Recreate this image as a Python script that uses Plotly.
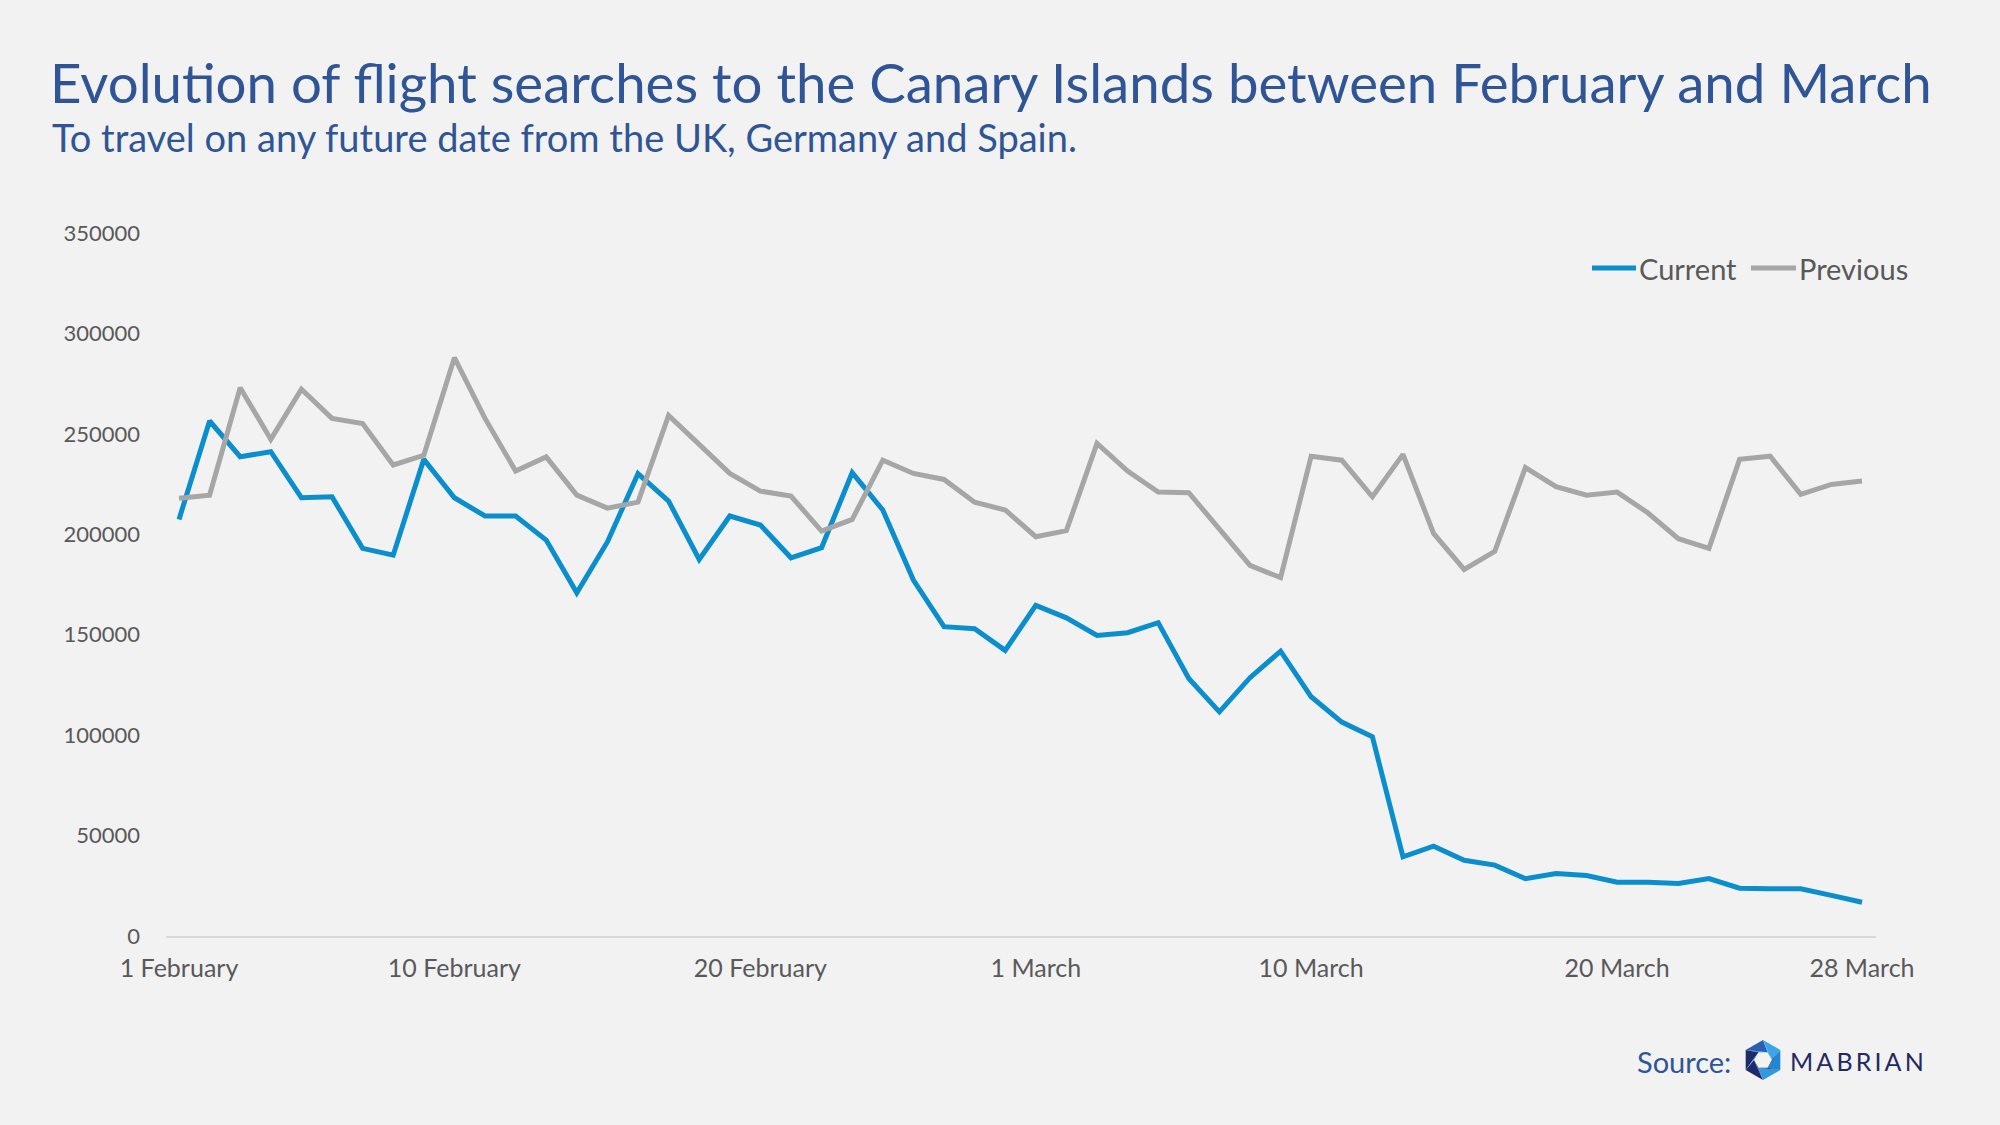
import plotly.graph_objects as go
import pandas as pd
import math

# ---- data ----
dates = pd.date_range("2021-02-01", "2021-03-28", freq="D")

current = [207400, 256400, 238600, 241100, 218200, 218700, 193000, 189600, 237300, 218200,
           209100, 209100, 197100, 170900, 196200, 230200, 216500, 187500, 209100, 204600,
           188300, 193300, 230700, 212100, 177200, 154000, 153000, 142200, 164600, 158400,
           149600, 151000, 156000, 128200, 111600, 128600, 141800, 119100, 106500, 99200,
           39400, 44700, 37700, 35300, 28500, 31100, 30100, 26800, 26800, 26100,
           28600, 23800, 23500, 23500, 20200, 16800]

previous = [217900, 219500, 273000, 247300, 272200, 257700, 255100, 234500, 239300, 287900,
            257700, 231500, 238500, 219500, 213000, 216000, 259200, 244800, 230300, 221500,
            219000, 201600, 207400, 236900, 230300, 227300, 216000, 212100, 198800, 201800,
            245300, 231500, 221000, 220700, 202400, 184500, 178400, 238900, 236900, 218700,
            239800, 200400, 182500, 191500, 233200, 223700, 219500, 221000, 210700, 197800,
            193000, 237300, 238900, 219900, 224800, 226500]

series_names = ["Current", "Previous"]

tick_dates = ["2021-02-01", "2021-02-10", "2021-02-20", "2021-03-01",
              "2021-03-10", "2021-03-20", "2021-03-28"]
tick_labels = ["1 February", "10 February", "20 February", "1 March",
               "10 March", "20 March", "28 March"]

y_ticks = [0, 50000, 100000, 150000, 200000, 250000, 300000, 350000]

# ---- layout geometry (pixels) ----
W, H = 2000, 1125
L, R, T, B = 166, 124, 233, 189
PW, PH = W - L - R, H - T - B


def px(x):
    return (x - L) / PW


def py(y):
    return (H - B - y) / PH


BLUE = "#0A8ECE"
GREY = "#A6A6A6"
TITLE = "#2F5597"
FONT = "Lato"
BG = "#F2F2F2"
LABEL = "#595959"

fig = go.Figure()
fig.add_trace(go.Scatter(x=dates, y=current, name=series_names[0], mode="lines",
                         line=dict(color=BLUE, width=5)))
fig.add_trace(go.Scatter(x=dates, y=previous, name=series_names[1], mode="lines",
                         line=dict(color=GREY, width=5)))

annotations = [
    dict(text="To travel on any future date from the UK, Germany and Spain.",
         xref="paper", yref="paper", x=px(50), y=py(137), xanchor="left", yanchor="middle",
         showarrow=False, font=dict(family=FONT, size=38, color=TITLE)),
    dict(text="Source:", xref="paper", yref="paper", x=px(1733), y=py(1061),
         xanchor="right", yanchor="middle", showarrow=False,
         font=dict(family=FONT, size=29, color=TITLE)),
    dict(text="M\u2009A\u2009B\u2009R\u2009I\u2009A\u2009N", xref="paper", yref="paper",
         x=px(1788), y=py(1061), xanchor="left", yanchor="middle", showarrow=False,
         font=dict(family=FONT, size=25, color="#1F2A63")),
]

# ---- legend drawn manually (line swatch + label) ----
legend_items = [(series_names[0], BLUE, 1592, 1636), (series_names[1], GREY, 1751, 1796)]
for name, col, x0, x1 in legend_items:
    fig.add_shape(type="line", xref="paper", yref="paper",
                  x0=px(x0), x1=px(x1), y0=py(268), y1=py(268),
                  line=dict(color=col, width=5))
    annotations.append(dict(text=name, xref="paper", yref="paper", x=px(x1 + 1), y=py(268),
                            xanchor="left", yanchor="middle", showarrow=False,
                            font=dict(family=FONT, size=29, color=LABEL)))

fig.update_layout(
    width=W, height=H,
    paper_bgcolor=BG, plot_bgcolor=BG,
    margin=dict(l=L, r=R, t=T, b=B),
    font=dict(family=FONT, color=LABEL),
    title=dict(text="Evolution of flight searches to the Canary Islands between February and March",
               x=50 / W, xanchor="left", y=1 - 84 / H, yanchor="middle",
               font=dict(family=FONT, size=54.6, color=TITLE)),
    showlegend=False,
    xaxis=dict(type="date", range=["2021-01-31 13:48", "2021-03-28 11:00"],
               tickvals=tick_dates, ticktext=tick_labels,
               showgrid=False, zeroline=False,
               showline=True, linecolor="#D9D9D9", linewidth=2,
               ticks="", tickfont=dict(family=FONT, size=25, color=LABEL),
               ticklabelstandoff=9),
    yaxis=dict(range=[0, 350000], tickvals=y_ticks, ticktext=[str(v) for v in y_ticks],
               showgrid=False, zeroline=False, showline=False, ticks="",
               tickfont=dict(family=FONT, size=22, color=LABEL),
               ticklabelstandoff=25),
    annotations=annotations,
)

# ---- Mabrian hexagon logo (pixel-sized shapes anchored at logo centre) ----
cx, cy = px(1763), py(1060)
Ro, Ri = 20, 9
outer = [(Ro * math.cos(math.radians(90 + 60 * k)), Ro * math.sin(math.radians(90 + 60 * k))) for k in range(6)]
inner = [(Ri * math.cos(math.radians(60 * k)), Ri * math.sin(math.radians(60 * k))) for k in range(6)]
seg_colors = ["#2A5FB0", "#1F2A6B", "#1F2A6B", "#2E9BE0", "#1E88D6", "#3AA5E8"]
for k in range(6):
    a, b = outer[k], outer[(k + 1) % 6]
    c = inner[(k + 1) % 6]
    path = f"M{a[0]:.2f},{a[1]:.2f} L{b[0]:.2f},{b[1]:.2f} L{c[0]:.2f},{c[1]:.2f} Z"
    fig.add_shape(type="path", path=path, xref="paper", yref="paper",
                  xsizemode="pixel", ysizemode="pixel", xanchor=cx, yanchor=cy,
                  fillcolor=seg_colors[k], line=dict(width=0), layer="above")
for k in range(6):
    a = outer[k]
    c0, c1 = inner[k], inner[(k + 1) % 6]
    path = f"M{a[0]:.2f},{a[1]:.2f} L{c0[0]:.2f},{c0[1]:.2f} L{c1[0]:.2f},{c1[1]:.2f} Z"
    fig.add_shape(type="path", path=path, xref="paper", yref="paper",
                  xsizemode="pixel", ysizemode="pixel", xanchor=cx, yanchor=cy,
                  fillcolor=seg_colors[(k + 3) % 6], line=dict(width=0), layer="above")

fig.write_html("out.html")
